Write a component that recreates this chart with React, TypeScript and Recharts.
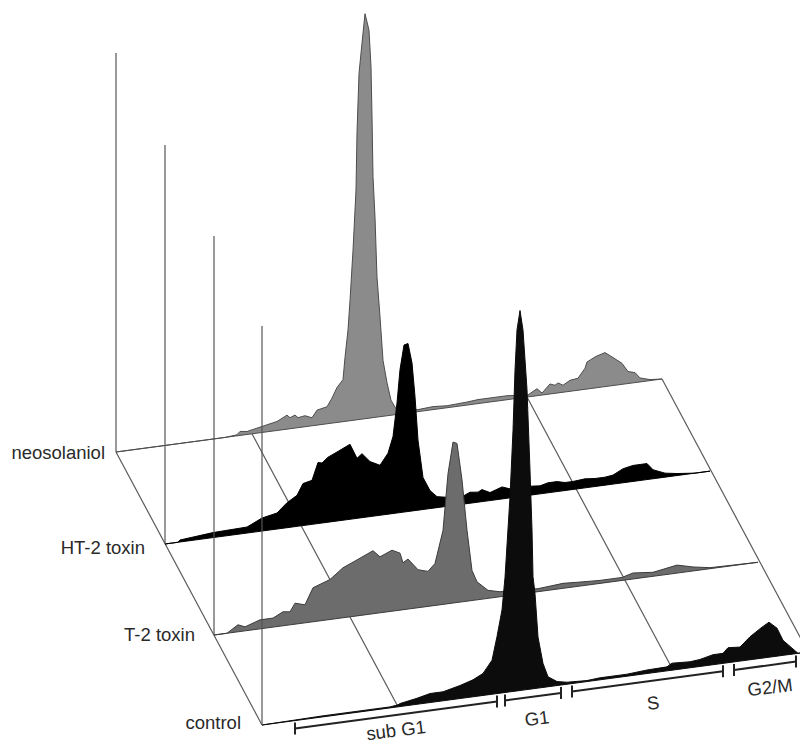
import React from 'react';
import { ComposedChart, Area, XAxis, YAxis, ReferenceLine, ReferenceDot } from 'recharts';

// channel = distance along the DNA axis, count = peak height, both
const neoChannels = [0, 109, 121, 124, 131, 146, 161, 171, 174, 179, 182, 189, 196, 201, 211, 216, 221, 227, 229, 232, 234, 237, 240, 241, 243, 246, 249, 253, 255, 256, 257, 259, 261, 264, 267, 271, 275, 281, 302, 317, 331, 351, 362, 374, 391, 412, 421, 426, 434, 439, 442, 447, 454, 462, 469, 471, 479, 482, 489, 497, 506, 512, 519, 524, 534, 546];
const neoCounts = [0, 0, 1, 4, 3, 6, 9, 14, 11, 13, 10, 11, 8, 15, 17, 25, 35, 42, 64, 91, 120, 170, 230, 287, 346, 376, 405, 388, 351, 301, 241, 200, 140, 100, 56, 33, 15, 4, 2, 3, 2, 3, 4, 4, 4, 2, 7, 2, 10, 8, 10, 7, 11, 12, 21, 27, 31, 32, 34, 28, 21, 12, 10, 4, 1, 0];

const ht2Channels = [0, 13, 15, 48, 82, 97, 112, 122, 132, 138, 147, 153, 157, 163, 172, 185, 192, 197, 205, 215, 223, 228, 232, 235, 239, 243, 247, 250, 253, 258, 265, 272, 282, 298, 305, 313, 317, 325, 337, 345, 365, 375, 383, 392, 400, 408, 420, 430, 440, 448, 458, 468, 482, 488, 500, 512, 530, 545];
const ht2Counts = [0, 0, 2, 5, 6, 13, 16, 25, 31, 42, 44, 61, 60, 65, 69, 75, 60, 64, 55, 50, 61, 77, 110, 143, 167, 168, 148, 114, 70, 32, 18, 11, 9, 8, 11, 10, 12, 8, 12, 9, 9, 8, 10, 10, 8, 8, 9, 8, 8, 9, 14, 16, 16, 9, 4, 2, 0, 0];

const t2Channels = [0, 13, 24, 31, 46, 59, 69, 76, 81, 91, 99, 116, 129, 143, 159, 166, 178, 186, 189, 194, 204, 214, 221, 229, 234, 239, 243, 248, 253, 258, 263, 274, 286, 324, 349, 366, 386, 408, 419, 439, 463, 479, 496, 544];
const t2Counts = [0, 0, 7, 4, 9, 9, 14, 13, 21, 18, 34, 40, 50, 56, 63, 56, 61, 57, 47, 50, 38, 35, 42, 74, 130, 161, 159, 122, 71, 30, 18, 8, 5, 3, 5, 4, 3, 3, 6, 4, 8, 4, 1, 0];

const controlChannels = [0, 60, 128, 136, 138, 155, 168, 181, 198, 211, 221, 230, 235, 240, 243, 248, 251, 253, 255, 258, 261, 265, 268, 270, 271, 273, 276, 281, 286, 295, 305, 325, 338, 365, 385, 405, 410, 428, 438, 451, 461, 466, 478, 488, 500, 507, 515, 521, 530, 536, 546];
const controlCounts = [0, 1, 1, 2, 3, 6, 9, 9, 13, 17, 22, 34, 57, 83, 115, 195, 261, 321, 361, 380, 360, 300, 219, 159, 112, 95, 51, 24, 10, 4, 2, 1, 2, 2, 3.5, 4, 7, 6, 7, 10, 10, 15, 14, 23, 31, 35, 28, 15, 6, 0, 0];

const sampleNames = ['neosolaniol', 'HT-2 toxin', 'T-2 toxin', 'control'];
const gridChannels = [0, 136, 411, 546];
const phaseNames = ['sub G1', 'G1', 'S', 'G2/M'];
const phaseStart = [33, 243, 310, 472];
const phaseEnd = [235, 299, 461, 534];
const phaseLabelAt = [134, 275, 391, 508];

// projection of the flat histograms onto the page
const W = 800;
const H = 745;
const AXIS_LEN = 546;
const AXIS_RISE = 73;
const AXIS_MAX = 399;
const origins = [
  { x: 116, y: 452, labelDx: -6, labelDy: 0 },
  { x: 165, y: 544, labelDx: -15, labelDy: 3 },
  { x: 214, y: 635, labelDx: -14, labelDy: -1 },
  { x: 262, y: 725, labelDx: -16, labelDy: -3 },
];
const rise = (ch: number) => (ch / AXIS_LEN) * AXIS_RISE;

const buildRow = (channels: number[], counts: number[], row: number) =>
  channels.map((ch, i) => {
    const base = origins[row].y - rise(ch);
    return { x: origins[row].x + ch, range: [base - counts[i], base] };
  });

const rows = [
  { data: buildRow(neoChannels, neoCounts, 0), fill: '#8b8b8b', stroke: '#4d4d4d' },
  { data: buildRow(ht2Channels, ht2Counts, 1), fill: '#000000', stroke: '#000000' },
  { data: buildRow(t2Channels, t2Counts, 2), fill: '#6c6c6c', stroke: '#3c3c3c' },
  { data: buildRow(controlChannels, controlCounts, 3), fill: '#0c0c0c', stroke: '#0c0c0c' },
];

const labelStyle = { fontFamily: 'Liberation Sans, Arial, sans-serif', fontSize: 18.5, fill: '#2a2a2a' };
const layerStyle: React.CSSProperties = { position: 'absolute', left: 0, top: 0, width: W, height: H };
const chartMargin = { top: 0, right: 0, bottom: 0, left: 0 };

const axes = [
  <XAxis key="x" type="number" dataKey="x" domain={[0, W]} allowDataOverflow hide />,
  <YAxis key="y" type="number" domain={[0, H]} reversed allowDataOverflow hide width={0} />,
];

const App: React.FC = () => {
  const last = origins.length - 1;
  const onControl = (ch: number) => ({ x: origins[last].x + ch, y: origins[last].y - rise(ch) });
  const bracketDy = 8;

  return (
    <div style={layerStyle}>
      {/* depth lines sit under the histograms, so they get their own chart below */}
      <div style={layerStyle}>
        <ComposedChart width={W} height={H} margin={chartMargin} data={rows[0].data}>
          {axes}
          {gridChannels.map((ch) => (
            <ReferenceLine
              key={`depth-${ch}`}
              segment={[
                { x: origins[0].x + ch, y: origins[0].y - rise(ch) },
                { x: origins[last].x + ch, y: origins[last].y - rise(ch) },
              ]}
              stroke="#5a5a5a"
              strokeWidth={1.2}
              ifOverflow="visible"
            />
          ))}
        </ComposedChart>
      </div>

      <div style={layerStyle}>
        <ComposedChart width={W} height={H} margin={chartMargin}>
          {axes}

          {rows.map((row, i) => (
            <Area
              key={sampleNames[i]}
              data={row.data}
              dataKey="range"
              type="linear"
              fill={row.fill}
              fillOpacity={1}
              stroke={row.stroke}
              strokeWidth={1}
              dot={false}
              activeDot={false}
              isAnimationActive={false}
            />
          ))}

          {origins.map((o) => (
            <ReferenceLine
              key={`count-${o.x}`}
              segment={[
                { x: o.x, y: o.y },
                { x: o.x, y: o.y - AXIS_MAX },
              ]}
              stroke="#555555"
              strokeWidth={1.2}
              ifOverflow="visible"
            />
          ))}

          {phaseNames.map((name, i) => {
            const a = onControl(phaseStart[i]);
            const b = onControl(phaseEnd[i]);
            const mid = onControl(phaseLabelAt[i]);
            // sub G1 would run off the bottom of the page at the full distance
            const labelDy = i === 0 ? 15 : 22;
            return (
              <React.Fragment key={name}>
                <ReferenceLine
                  segment={[{ x: a.x, y: a.y + bracketDy }, { x: b.x, y: b.y + bracketDy }]}
                  stroke="#222222"
                  strokeWidth={2}
                  ifOverflow="visible"
                />
                <ReferenceLine
                  segment={[{ x: a.x, y: a.y + bracketDy - 6 }, { x: a.x, y: a.y + bracketDy + 6 }]}
                  stroke="#222222"
                  strokeWidth={2}
                  ifOverflow="visible"
                />
                <ReferenceLine
                  segment={[{ x: b.x, y: b.y + bracketDy - 6 }, { x: b.x, y: b.y + bracketDy + 6 }]}
                  stroke="#222222"
                  strokeWidth={2}
                  ifOverflow="visible"
                />
                <ReferenceDot
                  x={mid.x}
                  y={mid.y + bracketDy + labelDy}
                  r={0}
                  fill="none"
                  stroke="none"
                  ifOverflow="visible"
                  label={{ value: name, position: 'center', angle: -7, ...labelStyle }}
                />
              </React.Fragment>
            );
          })}

          {sampleNames.map((name, i) => (
            <ReferenceDot
              key={`label-${name}`}
              x={origins[i].x + origins[i].labelDx}
              y={origins[i].y + origins[i].labelDy}
              r={0}
              fill="none"
              stroke="none"
              ifOverflow="visible"
              label={{ value: name, position: 'left', ...labelStyle }}
            />
          ))}
        </ComposedChart>
      </div>
    </div>
  );
};

export default App;
